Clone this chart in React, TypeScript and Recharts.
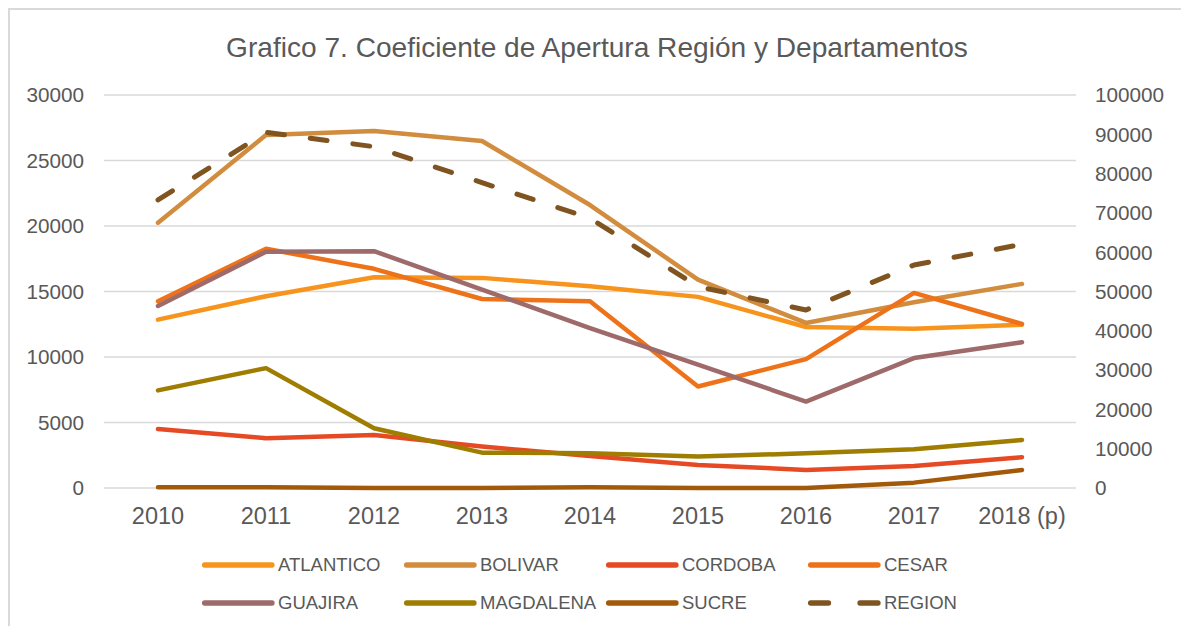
import React from 'react';
import { LineChart, Line, XAxis, YAxis, CartesianGrid } from 'recharts';

const years = ['2010', '2011', '2012', '2013', '2014', '2015', '2016', '2017', '2018 (p)'];
const atlantico = [12850, 14640, 16090, 16040, 15400, 14590, 12290, 12160, 12470];
const bolivar = [20250, 26950, 27260, 26490, 21600, 15900, 12600, 14180, 15580];
const cordoba = [4500, 3800, 4050, 3160, 2450, 1760, 1380, 1680, 2350];
const cesar = [14250, 18260, 16730, 14430, 14250, 7750, 9840, 14890, 12520];
const guajira = [13900, 18030, 18080, 15150, 12200, 9410, 6600, 9920, 11120];
const magdalena = [7450, 9150, 4560, 2700, 2650, 2400, 2650, 2960, 3670];
const sucre = [50, 50, 0, 0, 50, 0, 0, 410, 1380];
const region = [73300, 90500, 86850, 77700, 68640, 51240, 45300, 56750, 62000];

const leftTicks = [0, 5000, 10000, 15000, 20000, 25000, 30000];
const rightTicks = [0, 10000, 20000, 30000, 40000, 50000, 60000, 70000, 80000, 90000, 100000];

const series = [
  { key: 'ATLANTICO', values: atlantico, color: '#F7941D', axis: 'left', dashed: false },
  { key: 'BOLIVAR', values: bolivar, color: '#D18C3D', axis: 'left', dashed: false },
  { key: 'CORDOBA', values: cordoba, color: '#E64A25', axis: 'left', dashed: false },
  { key: 'CESAR', values: cesar, color: '#EE7219', axis: 'left', dashed: false },
  { key: 'GUAJIRA', values: guajira, color: '#9E6A6A', axis: 'left', dashed: false },
  { key: 'MAGDALENA', values: magdalena, color: '#9E7D00', axis: 'left', dashed: false },
  { key: 'SUCRE', values: sucre, color: '#A3590A', axis: 'left', dashed: false },
  { key: 'REGION', values: region, color: '#7F5421', axis: 'right', dashed: true },
];

const data = years.map((y, i) => {
  const row: Record<string, any> = { year: y };
  series.forEach((s) => {
    row[s.key] = s.values[i];
  });
  return row;
});

const FONT = '"Liberation Sans", Arial, sans-serif';
const TXT = '#595959';

export default function App() {
  return (
    <div
      style={{
        position: 'fixed',
        left: 8,
        top: 8,
        width: 1171,
        height: 616,
        borderLeft: '2px solid #d9d9d9',
        borderTop: '2px solid #d9d9d9',
        fontFamily: FONT,
        background: '#fff',
        overflow: 'hidden',
      }}
    >
      <style>{'html,body{overflow:hidden}'}</style>
      <LineChart
        width={1171}
        height={616}
        data={data}
        margin={{ top: 85, right: 0, left: 0, bottom: 98 }}
      >
        <text x={587} y={47} textAnchor="middle" fontSize={28.1} fill={TXT} fontFamily={FONT}>
          Grafico 7. Coeficiente de Apertura Región y Departamentos
        </text>
        <CartesianGrid yAxisId="left" vertical={false} stroke="#d9d9d9" strokeWidth={1.3} />
        <XAxis
          dataKey="year"
          axisLine={false}
          tickLine={false}
          tickSize={0}
          tickMargin={19}
          height={40}
          padding={{ left: 54, right: 54 }}
          tick={{ fontSize: 23.5, fill: TXT, fontFamily: FONT }}
          interval={0}
        />
        <YAxis
          yAxisId="left"
          orientation="left"
          domain={[0, 30000]}
          ticks={leftTicks}
          width={94}
          axisLine={false}
          tickLine={false}
          tickSize={0}
          tickMargin={20}
          tick={{ fontSize: 20.7, fill: TXT, fontFamily: FONT }}
        />
        <YAxis
          yAxisId="right"
          orientation="right"
          domain={[0, 100000]}
          ticks={rightTicks}
          width={105}
          axisLine={false}
          tickLine={false}
          tickSize={0}
          tickMargin={19}
          tick={{ fontSize: 20.7, fill: TXT, fontFamily: FONT, textAnchor: 'start' }}
        />
        {series.map((s) => (
          <Line
            key={s.key}
            yAxisId={s.axis}
            type="linear"
            dataKey={s.key}
            stroke={s.color}
            strokeWidth={s.dashed ? 5 : 4.5}
            strokeDasharray={s.dashed ? '17 26' : undefined}
            strokeLinecap="round"
            strokeLinejoin="round"
            dot={false}
            activeDot={false}
            isAnimationActive={false}
          />
        ))}
      </LineChart>
      {series.map((s, i) => {
        const col = i % 4;
        const row = Math.floor(i / 4);
        const left = 192 + col * 202;
        const top = 554 + row * 37.5 - 10;
        return (
          <div
            key={s.key}
            style={{
              position: 'absolute',
              left,
              top,
              height: 22,
              display: 'flex',
              alignItems: 'center',
              fontSize: 18.5,
              color: TXT,
              whiteSpace: 'nowrap',
            }}
          >
            <svg width={76} height={22} style={{ display: 'block' }}>
              {s.dashed ? (
                <g stroke={s.color} strokeWidth={5.3} strokeLinecap="round">
                  <line x1={2.5} y1={11} x2={20.5} y2={11} />
                  <line x1={52} y1={11} x2={70} y2={11} />
                </g>
              ) : (
                <line x1={2.5} y1={11} x2={70} y2={11} stroke={s.color} strokeWidth={5.3} strokeLinecap="round" />
              )}
            </svg>
            <span>{s.key}</span>
          </div>
        );
      })}
    </div>
  );
}
